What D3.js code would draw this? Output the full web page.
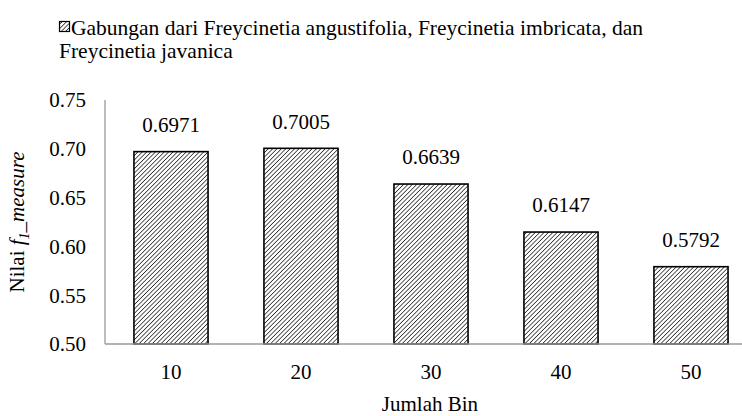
<!DOCTYPE html>
<html>
<head>
<meta charset="utf-8">
<script src="https://cdn.jsdelivr.net/npm/d3@7"></script>
<style>
  body { margin: 0; background: #fff; }
</style>
</head>
<body>
<svg id="chart" width="742" height="416"></svg>
<script>
const categories = ["10", "20", "30", "40", "50"];
const values = [0.6971, 0.7005, 0.6639, 0.6147, 0.5792];
const yTicks = [0.50, 0.55, 0.60, 0.65, 0.70, 0.75];
const legendLines = [
  "Gabungan dari Freycinetia angustifolia, Freycinetia imbricata, dan",
  "Freycinetia javanica"
];

const FONT = '"Liberation Serif"';
const FS = 21;

const svg = d3.select("svg#chart");

// hatch pattern
const defs = svg.append("defs");
const pat = defs.append("pattern")
  .attr("id", "hatch")
  .attr("patternUnits", "userSpaceOnUse")
  .attr("width", 3.1)
  .attr("height", 3.1)
  .attr("patternTransform", "rotate(45)");
pat.append("rect").attr("width", 3.1).attr("height", 3.1).attr("fill", "#fff");
pat.append("line")
  .attr("x1", 0).attr("y1", 0).attr("x2", 0).attr("y2", 3.1)
  .attr("stroke", "#222").attr("stroke-width", 1.5);

//scales
const xScale = d3.scaleBand()
  .domain(categories)
  .range([106, 756])
  .paddingInner(0.43)
  .paddingOuter(0.215);

const yScale = d3.scaleLinear()
  .domain([0.5, 0.75])
  .range([344, 100]);

// y axis line
svg.append("line")
  .attr("x1", 105).attr("x2", 105)
  .attr("y1", yScale(0.75)).attr("y2", yScale(0.5))
  .attr("stroke", "#999").attr("stroke-width", 1.3);

//bars
svg.append("g")
  .selectAll("rect")
  .data(values)
  .join("rect")
  .attr("x", (d, i) => xScale(categories[i]))
  .attr("y", d => yScale(d))
  .attr("width", xScale.bandwidth())
  .attr("height", d => yScale(0.5) - yScale(d))
  .attr("fill", "url(#hatch)")
  .attr("stroke", "#000")
  .attr("stroke-width", 1.6);

// x axis line
svg.append("line")
  .attr("x1", 105).attr("x2", 742)
  .attr("y1", yScale(0.5)).attr("y2", yScale(0.5))
  .attr("stroke", "#999").attr("stroke-width", 1.3);

// y tick labels
svg.append("g")
  .selectAll("text")
  .data(yTicks)
  .join("text")
  .attr("x", 86)
  .attr("y", d => yScale(d))
  .attr("dy", "0.35em")
  .attr("text-anchor", "end")
  .style("font-family", FONT)
  .style("font-size", FS + "px")
  .text(d => d.toFixed(2));

// x tick labels
svg.append("g")
  .selectAll("text")
  .data(categories)
  .join("text")
  .attr("x", d => xScale(d) + xScale.bandwidth() / 2)
  .attr("y", 372)
  .attr("dy", "0.35em")
  .attr("text-anchor", "middle")
  .style("font-family", FONT)
  .style("font-size", FS + "px")
  .text(d => d);

// value labels
svg.append("g")
  .selectAll("text")
  .data(values)
  .join("text")
  .attr("x", (d, i) => xScale(categories[i]) + xScale.bandwidth() / 2)
  .attr("y", d => yScale(d) - 27)
  .attr("dy", "0.35em")
  .attr("text-anchor", "middle")
  .style("font-family", FONT)
  .style("font-size", FS + "px")
  .text(d => d.toFixed(4));

// x axis title
svg.append("text")
  .attr("x", 430).attr("y", 404)
  .attr("dy", "0.35em")
  .attr("text-anchor", "middle")
  .style("font-family", FONT)
  .style("font-size", FS + "px")
  .text("Jumlah Bin");

// y axis title
const yt = svg.append("text")
  .attr("transform", "translate(17,222) rotate(-90)")
  .attr("dy", "0.35em")
  .attr("text-anchor", "middle")
  .style("font-family", FONT)
  .style("font-size", FS + "px");
yt.append("tspan").style("font-family", FONT).text("Nilai ");
yt.append("tspan").style("font-family", FONT).style("font-style", "italic").text("f");
yt.append("tspan").style("font-family", FONT).style("font-style", "italic")
  .style("font-size", "14px").attr("dy", 5).text("1");
yt.append("tspan").style("font-family", FONT).style("font-style", "italic")
  .attr("dy", -5).text("_measure");

// legend
const lg = svg.append("g");
lg.append("rect")
  .attr("x", 59.5).attr("y", 21.5)
  .attr("width", 10).attr("height", 10)
  .attr("fill", "url(#hatch)")
  .attr("stroke", "#000").attr("stroke-width", 1.2);
lg.selectAll("text")
  .data(legendLines)
  .join("text")
  .attr("x", (d, i) => i === 0 ? 71 : 59)
  .attr("y", (d, i) => 27 + i * 23)
  .attr("dy", "0.35em")
  .style("font-family", FONT)
  .style("font-size", "21.5px")
  .text(d => d);
</script>
</body>
</html>
